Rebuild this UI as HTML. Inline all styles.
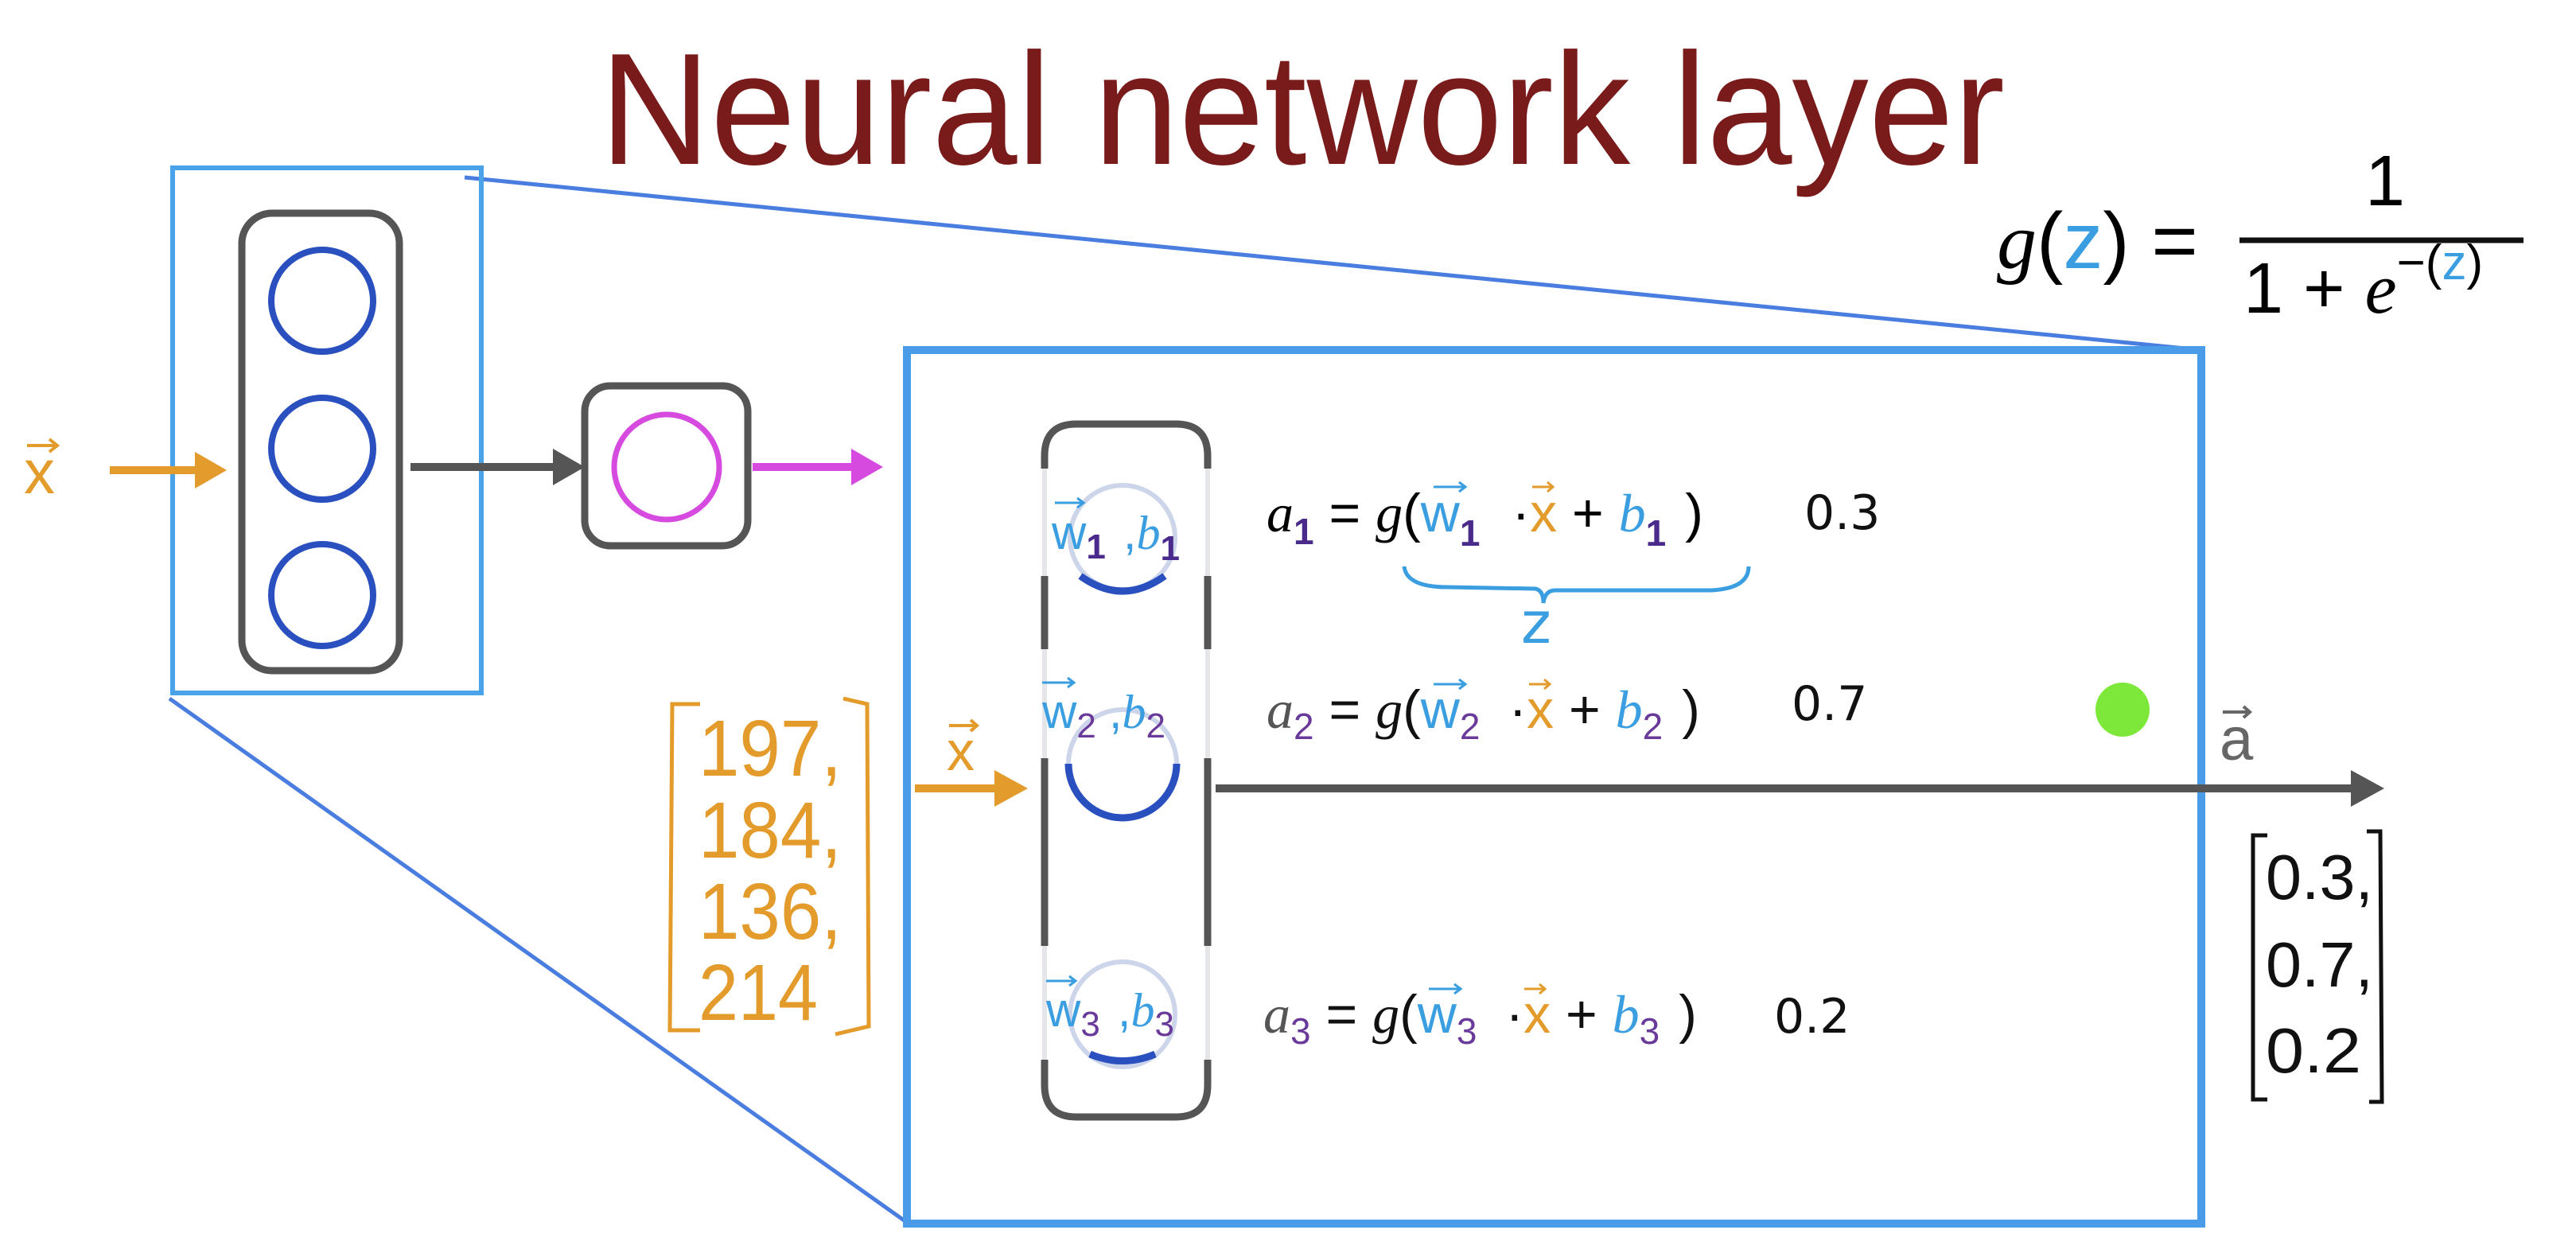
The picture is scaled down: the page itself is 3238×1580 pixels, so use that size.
<!DOCTYPE html>
<html><head><meta charset="utf-8"><style>
html,body{margin:0;padding:0;background:#fff;}
svg{display:block;}
text{font-family:"Liberation Sans",sans-serif;}
.m{font-family:"Liberation Serif",serif;font-style:italic;}
.h{font-family:"DejaVu Sans","Liberation Sans",sans-serif;}
</style></head><body>
<svg width="3238" height="1580" viewBox="0 0 3238 1580" xmlns="http://www.w3.org/2000/svg">
<!-- title -->
<text x="754" y="206" font-size="200" fill="#7a1b1b" textLength="1766" lengthAdjust="spacingAndGlyphs">Neural network layer</text>

<!-- zoom lines -->
<line x1="584" y1="223" x2="2767" y2="440" stroke="#4a7de0" stroke-width="5"/>
<line x1="213" y1="878" x2="1142" y2="1538" stroke="#4a7de0" stroke-width="5"/>

<!-- small box -->
<rect x="217" y="211" width="388" height="660" fill="none" stroke="#4aa3e8" stroke-width="6"/>
<rect x="304" y="268" width="198" height="575" rx="38" fill="none" stroke="#555" stroke-width="9"/>
<circle cx="405" cy="378" r="64" fill="none" stroke="#2a50c0" stroke-width="8"/>
<circle cx="405" cy="564" r="64" fill="none" stroke="#2a50c0" stroke-width="8"/>
<circle cx="405" cy="748" r="64" fill="none" stroke="#2a50c0" stroke-width="8"/>

<!-- x arrow left -->
<text x="30" y="620" font-size="78" fill="#e39b2b">x</text>
<line x1="34" y1="560" x2="70" y2="560" stroke="#e39b2b" stroke-width="4"/>
<path d="M62,552 L72,560 L62,568" fill="none" stroke="#e39b2b" stroke-width="4"/>
<line x1="138" y1="591" x2="250" y2="591" stroke="#e39b2b" stroke-width="10"/>
<path d="M245,568 L285,591 L245,614 z" fill="#e39b2b"/>

<!-- gray arrow -->
<line x1="516" y1="587" x2="700" y2="587" stroke="#555" stroke-width="10"/>
<path d="M695,564 L735,587 L695,610 z" fill="#555"/>

<!-- small node -->
<rect x="735" y="485" width="205" height="201" rx="32" fill="none" stroke="#555" stroke-width="9"/>
<circle cx="838" cy="587" r="66" fill="none" stroke="#d64ae0" stroke-width="7"/>
<line x1="946" y1="587" x2="1075" y2="587" stroke="#d64ae0" stroke-width="10"/>
<path d="M1070,564 L1110,587 L1070,610 z" fill="#d64ae0"/>

<!-- big box -->
<rect x="1140" y="440" width="1627" height="1098" fill="none" stroke="#4a9be8" stroke-width="10"/>

<!-- g(z) formula -->
<text x="2510" y="337" font-size="100"><tspan class="m">g</tspan><tspan>(</tspan><tspan fill="#3a9ee0">z</tspan><tspan>) =</tspan></text>
<line x1="2815" y1="302" x2="3172" y2="302" stroke="#111" stroke-width="7"/>
<text x="2998" y="258" font-size="90" text-anchor="middle">1</text>
<text x="2820" y="393" font-size="90">1 + <tspan class="m">e</tspan><tspan font-size="62" dy="-42">−(</tspan><tspan font-size="62" fill="#3a9ee0">z</tspan><tspan font-size="62">)</tspan></text>

<!-- inner column with gaps -->
<g stroke="#555" stroke-width="9" fill="none">
<path d="M1313,589 L1313,573 Q1313,533 1353,533 L1478,533 Q1518,533 1518,573 L1518,589"/>
<line x1="1313" y1="724" x2="1313" y2="816"/><line x1="1518" y1="724" x2="1518" y2="816"/>
<line x1="1313" y1="953" x2="1313" y2="1189"/><line x1="1518" y1="953" x2="1518" y2="1189"/>
<path d="M1313,1332 L1313,1364 Q1313,1404 1353,1404 L1478,1404 Q1518,1404 1518,1364 L1518,1332"/>
</g>
<g stroke="#e4e6ea" stroke-width="6">
<line x1="1313" y1="589" x2="1313" y2="724"/><line x1="1518" y1="589" x2="1518" y2="724"/>
<line x1="1313" y1="816" x2="1313" y2="953"/><line x1="1518" y1="816" x2="1518" y2="953"/>
<line x1="1313" y1="1189" x2="1313" y2="1332"/><line x1="1518" y1="1189" x2="1518" y2="1332"/>
</g>
<!-- faint circles -->
<g fill="none" stroke="#cdd5ea" stroke-width="6">
<circle cx="1411" cy="676" r="66"/><circle cx="1411" cy="960" r="68"/><circle cx="1411" cy="1275" r="66"/>
</g>
<g fill="none" stroke="#2a50c0" stroke-width="9">
<path d="M1358,724 Q1411,762 1464,724"/>
<path d="M1343,960 A68,68 0 0 0 1479,960"/>
<path d="M1370,1325 Q1411,1342 1452,1325"/>
</g>

<!-- node labels -->
<g font-size="60">
<text x="1322" y="690" fill="#3a9ee0">w<tspan font-size="44" fill="#4a2a8a" font-weight="bold" dy="12">1</tspan><tspan dy="-12" dx="22">,</tspan><tspan class="m">b</tspan><tspan font-size="44" fill="#4a2a8a" font-weight="bold" dy="14">1</tspan></text>
<text x="1310" y="915" fill="#3a9ee0">w<tspan font-size="44" fill="#6a3a9a" dy="12">2</tspan><tspan dy="-12" dx="16">,</tspan><tspan class="m">b</tspan><tspan font-size="44" fill="#6a3a9a" dy="12">2</tspan></text>
<text x="1315" y="1290" fill="#3a9ee0">w<tspan font-size="44" fill="#6a3a9a" dy="12">3</tspan><tspan dy="-12" dx="22">,</tspan><tspan class="m">b</tspan><tspan font-size="44" fill="#6a3a9a" dy="12">3</tspan></text>
</g>
<g fill="none" stroke="#3a9ee0" stroke-width="3">
<line x1="1326" y1="632" x2="1362" y2="632"/><path d="M1354,626 L1362,632 L1354,638"/>
<line x1="1310" y1="858" x2="1350" y2="858"/><path d="M1342,852 L1350,858 L1342,864"/>
<line x1="1315" y1="1233" x2="1352" y2="1233"/><path d="M1344,1227 L1352,1233 L1344,1239"/>
</g>

<!-- equations -->
<g font-size="68">
<text x="1592" y="668"><tspan class="m">a</tspan><tspan font-size="46" fill="#4a2a8a" font-weight="bold" dy="16">1</tspan><tspan dy="-16"> = </tspan><tspan class="m">g</tspan>(<tspan fill="#3a9ee0">w</tspan><tspan font-size="46" fill="#4a2a8a" font-weight="bold" dy="18">1</tspan><tspan dy="-18" dx="40">·</tspan><tspan fill="#e39b2b">x</tspan> + <tspan class="m" fill="#3a9ee0">b</tspan><tspan font-size="46" fill="#4a2a8a" font-weight="bold" dy="18">1</tspan><tspan dy="-18" dx="24">)</tspan></text>
<text x="1592" y="915" fill="#555"><tspan class="m">a</tspan><tspan font-size="46" fill="#6a3a9a" dy="14">2</tspan><tspan dy="-14" fill="#111"> = </tspan><tspan class="m" fill="#111">g</tspan><tspan fill="#111">(</tspan><tspan fill="#3a9ee0">w</tspan><tspan font-size="46" fill="#6a3a9a" dy="14">2</tspan><tspan dy="-14" dx="36" fill="#111">·</tspan><tspan fill="#e39b2b">x</tspan><tspan fill="#111"> + </tspan><tspan class="m" fill="#3a9ee0">b</tspan><tspan font-size="46" fill="#6a3a9a" dy="14">2</tspan><tspan dy="-14" dx="24" fill="#111">)</tspan></text>
<text x="1588" y="1298" fill="#555"><tspan class="m">a</tspan><tspan font-size="46" fill="#6a3a9a" dy="14">3</tspan><tspan dy="-14" fill="#111"> = </tspan><tspan class="m" fill="#111">g</tspan><tspan fill="#111">(</tspan><tspan fill="#3a9ee0">w</tspan><tspan font-size="46" fill="#6a3a9a" dy="14">3</tspan><tspan dy="-14" dx="36" fill="#111">·</tspan><tspan fill="#e39b2b">x</tspan><tspan fill="#111"> + </tspan><tspan class="m" fill="#3a9ee0">b</tspan><tspan font-size="46" fill="#6a3a9a" dy="14">3</tspan><tspan dy="-14" dx="24" fill="#111">)</tspan></text>
</g>
<g font-size="60" class="h" fill="#111">
<text x="2268" y="665" class="h">0.3</text>
<text x="2252" y="905" class="h">0.7</text>
<text x="2230" y="1298" class="h">0.2</text>
</g>
<!-- vector arrows over w/x in equations -->
<g fill="none" stroke="#3a9ee0" stroke-width="3">
<line x1="1802" y1="612" x2="1842" y2="612"/><path d="M1834,606 L1842,612 L1834,618"/>
<line x1="1802" y1="860" x2="1842" y2="860"/><path d="M1834,854 L1842,860 L1834,866"/>
<line x1="1796" y1="1243" x2="1836" y2="1243"/><path d="M1828,1237 L1836,1243 L1828,1249"/>
</g>
<g fill="none" stroke="#e39b2b" stroke-width="3">
<line x1="1926" y1="612" x2="1952" y2="612"/><path d="M1945,606 L1952,612 L1945,618"/>
<line x1="1922" y1="860" x2="1948" y2="860"/><path d="M1941,854 L1948,860 L1941,866"/>
<line x1="1916" y1="1243" x2="1942" y2="1243"/><path d="M1935,1237 L1942,1243 L1935,1249"/>
</g>

<!-- brace -->
<path d="M1765,712 Q1768,738 1820,738 L1930,740 Q1940,742 1940,758 Q1942,742 1955,742 L2150,742 Q2198,740 2198,712" fill="none" stroke="#3a9ee0" stroke-width="5"/>
<text x="1912" y="808" font-size="72" fill="#3a9ee0" class="h">z</text>

<!-- main horizontal arrow -->
<line x1="1528" y1="991" x2="2960" y2="991" stroke="#555" stroke-width="10"/>
<path d="M2955,968 L2997,991 L2955,1014 z" fill="#555"/>

<!-- orange x arrow -->
<text x="1190" y="968" font-size="70" fill="#e39b2b">x</text>
<line x1="1193" y1="912" x2="1228" y2="912" stroke="#e39b2b" stroke-width="4"/>
<path d="M1220,905 L1228,912 L1220,919" fill="none" stroke="#e39b2b" stroke-width="4"/>
<line x1="1150" y1="991" x2="1255" y2="991" stroke="#e39b2b" stroke-width="10"/>
<path d="M1250,968 L1292,991 L1250,1014 z" fill="#e39b2b"/>

<!-- input matrix -->
<path d="M880,885 L845,885 L842,1295 L880,1295" fill="none" stroke="#e39b2b" stroke-width="5"/>
<path d="M1060,878 L1090,885 L1092,1290 L1050,1300" fill="none" stroke="#e39b2b" stroke-width="5"/>
<g font-size="100" fill="#e39b2b" class="h">
<text x="878" y="975" textLength="180" lengthAdjust="spacingAndGlyphs">197,</text>
<text x="878" y="1078" textLength="180" lengthAdjust="spacingAndGlyphs">184,</text>
<text x="878" y="1180" textLength="180" lengthAdjust="spacingAndGlyphs">136,</text>
<text x="878" y="1282" textLength="150" lengthAdjust="spacingAndGlyphs">214</text>
</g>

<!-- green dot -->
<circle cx="2668" cy="892" r="34" fill="#7de83a"/>
<!-- a vector label -->
<text x="2790" y="955" font-size="76" fill="#666">a</text>
<line x1="2794" y1="895" x2="2828" y2="895" stroke="#666" stroke-width="4"/>
<path d="M2820,888 L2828,895 L2820,902" fill="none" stroke="#666" stroke-width="4"/>

<!-- output matrix -->
<path d="M2850,1050 L2832,1050 L2832,1382 L2850,1382" fill="none" stroke="#111" stroke-width="5"/>
<path d="M2975,1045 L2992,1045 L2994,1385 L2978,1385" fill="none" stroke="#111" stroke-width="5"/>
<g font-size="80" class="h" fill="#111">
<text x="2848" y="1130" textLength="135" lengthAdjust="spacingAndGlyphs">0.3,</text>
<text x="2848" y="1240" textLength="135" lengthAdjust="spacingAndGlyphs">0.7,</text>
<text x="2848" y="1348" textLength="120" lengthAdjust="spacingAndGlyphs">0.2</text>
</g>
</svg>
</body></html>
